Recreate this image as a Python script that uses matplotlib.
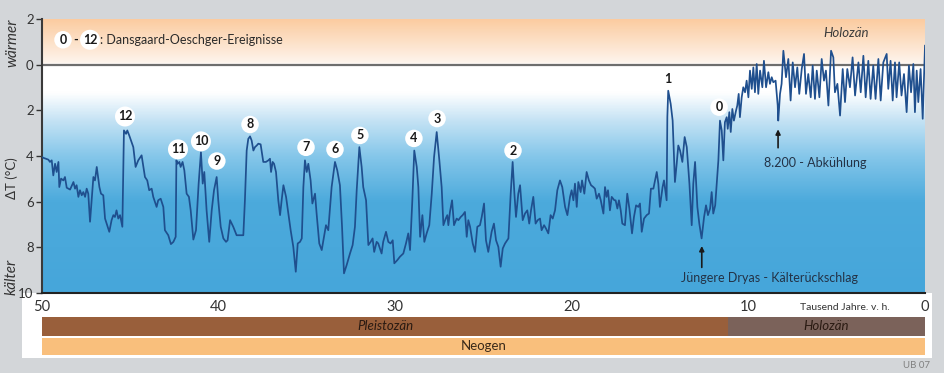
import numpy as np
import matplotlib
matplotlib.use("Agg")
import matplotlib.pyplot as plt
from matplotlib.colors import LinearSegmentedColormap
from matplotlib.patches import Rectangle

plt.rcParams['font.family'] = ['Lato', 'DejaVu Sans']

# age in thousand years before present, temperature anomaly in degC (positive = colder)
kyr = [50.00, 49.92, 49.64, 49.55, 49.45, 49.36, 49.26, 49.17, 49.07, 49.02, 48.92, 48.79, 48.70, 48.60,
       48.41, 48.22, 48.13, 48.04, 47.94, 47.85, 47.75, 47.66, 47.56, 47.47, 47.38, 47.28, 47.09, 47.00,
       46.90, 46.75, 46.66, 46.53, 46.43, 46.34, 46.19, 46.06, 45.96, 45.87, 45.78, 45.68, 45.58, 45.45,
       45.36, 45.24, 45.17, 45.06, 44.93, 44.83, 44.70, 44.55, 44.36, 44.17, 44.04, 43.93, 43.79, 43.70,
       43.51, 43.42, 43.28, 43.13, 43.04, 42.85, 42.70, 42.56, 42.43, 42.39, 42.32, 42.22, 42.15, 42.04,
       41.94, 41.81, 41.68, 41.58, 41.43, 41.28, 41.13, 41.00, 40.90, 40.81, 40.68, 40.53, 40.39, 40.26,
       40.11, 40.02, 39.88, 39.73, 39.58, 39.49, 39.35, 39.17, 38.98, 38.79, 38.60, 38.51, 38.41, 38.32,
       38.22, 38.13, 38.03, 37.94, 37.84, 37.75, 37.62, 37.47, 37.32, 37.18, 37.09, 37.03, 36.94, 36.86,
       36.75, 36.62, 36.52, 36.43, 36.33, 36.18, 36.05, 35.92, 35.77, 35.63, 35.52, 35.39, 35.29, 35.20,
       35.11, 35.01, 34.92, 34.79, 34.69, 34.54, 34.45, 34.30, 34.16, 34.03, 33.92, 33.79, 33.60, 33.41,
       33.28, 33.13, 33.01, 32.90, 32.75, 32.56, 32.41, 32.28, 32.18, 32.03, 31.90, 31.81, 31.65, 31.52,
       31.39, 31.28, 31.19, 31.05, 30.96, 30.77, 30.68, 30.52, 30.39, 30.26, 30.14, 30.05, 29.88, 29.73,
       29.54, 29.39, 29.26, 29.16, 29.03, 28.92, 28.78, 28.69, 28.59, 28.46, 28.35, 28.22, 28.07, 27.93,
       27.80, 27.65, 27.50, 27.37, 27.27, 27.14, 27.05, 26.99, 26.90, 26.78, 26.67, 26.52, 26.42, 26.29,
       26.18, 26.05, 25.95, 25.86, 25.76, 25.61, 25.48, 25.35, 25.20, 25.10, 24.97, 24.86, 24.73, 24.54,
       24.41, 24.29, 24.16, 24.03, 23.91, 23.78, 23.59, 23.46, 23.35, 23.25, 23.16, 23.03, 22.93, 22.78,
       22.65, 22.52, 22.41, 22.31, 22.18, 22.05, 21.93, 21.80, 21.71, 21.57, 21.46, 21.33, 21.20, 21.08,
       20.95, 20.82, 20.67, 20.54, 20.38, 20.25, 20.10, 20.01, 19.91, 19.82, 19.72, 19.63, 19.50, 19.42,
       19.29, 19.16, 19.03, 18.91, 18.78, 18.69, 18.59, 18.46, 18.36, 18.21, 18.12, 18.03, 17.95, 17.84,
       17.74, 17.59, 17.52, 17.42, 17.33, 17.23, 17.14, 16.99, 16.86, 16.74, 16.59, 16.48, 16.36, 16.23,
       16.14, 16.04, 15.91, 15.76, 15.63, 15.52, 15.38, 15.19, 15.10, 15.01, 14.86, 14.78, 14.63, 14.59,
       14.54, 14.40, 14.29, 14.16, 14.06, 13.97, 13.87, 13.74, 13.61, 13.49, 13.34, 13.21, 13.12, 13.02,
       12.89, 12.78, 12.65, 12.51, 12.40, 12.29, 12.17, 12.08, 11.99, 11.88, 11.70, 11.61, 11.51, 11.42,
       11.33, 11.23, 11.17, 11.08, 11.00, 10.91, 10.82, 10.70, 10.63, 10.55, 10.48, 10.38, 10.29, 10.19,
       10.10, 10.00, 9.91, 9.81, 9.72, 9.63, 9.53, 9.44, 9.34, 9.21, 9.12, 9.00, 8.87, 8.78,
       8.68, 8.59, 8.46, 8.34, 8.31, 8.21, 8.12, 8.02, 7.87, 7.74, 7.61, 7.49, 7.36, 7.23,
       7.12, 6.98, 6.85, 6.74, 6.61, 6.47, 6.36, 6.23, 6.13, 5.98, 5.85, 5.72, 5.61, 5.47,
       5.32, 5.19, 5.10, 4.96, 4.81, 4.66, 4.53, 4.40, 4.25, 4.10, 3.96, 3.77, 3.64, 3.49,
       3.36, 3.21, 3.08, 2.93, 2.80, 2.64, 2.51, 2.36, 2.17, 2.08, 1.95, 1.83, 1.70, 1.61,
       1.46, 1.33, 1.19, 1.04, 0.91, 0.79, 0.66, 0.57, 0.47, 0.38, 0.25, 0.13, 0.00]
dT = [4.05, 4.08, 4.16, 4.26, 4.19, 4.85, 4.34, 4.70, 4.26, 5.36, 4.99, 5.07, 4.92, 5.39,
      5.47, 5.14, 5.43, 5.28, 5.79, 5.50, 5.72, 5.58, 5.79, 5.43, 5.65, 6.88, 4.92, 5.07,
      4.48, 5.36, 5.65, 5.72, 6.74, 6.96, 7.32, 6.81, 6.59, 6.67, 6.38, 6.74, 6.59, 7.10,
      2.88, 3.03, 2.88, 3.10, 3.39, 3.61, 4.48, 4.19, 3.97, 4.92, 5.07, 5.50, 5.43, 5.79,
      6.23, 5.94, 5.87, 6.23, 7.25, 7.47, 7.86, 7.76, 7.54, 4.19, 4.34, 4.26, 4.48, 4.26,
      4.63, 5.65, 5.79, 6.38, 7.66, 7.25, 5.21, 3.83, 5.21, 4.70, 6.38, 7.76, 6.38, 5.50,
      4.92, 5.94, 7.10, 7.61, 7.76, 7.69, 6.81, 7.10, 7.47, 7.47, 7.47, 5.94, 3.76, 3.25,
      3.14, 3.32, 3.76, 3.61, 3.54, 3.46, 3.49, 4.26, 4.26, 4.19, 4.12, 4.70, 4.26, 4.34,
      4.70, 5.94, 6.59, 5.94, 5.28, 5.79, 6.52, 7.25, 7.98, 9.07, 7.83, 7.76, 7.61, 5.36,
      4.19, 4.70, 4.34, 5.07, 6.08, 5.65, 6.52, 7.83, 8.12, 7.54, 7.03, 7.25, 5.36, 4.26,
      4.63, 5.28, 7.10, 9.14, 8.78, 8.27, 7.90, 7.10, 5.50, 3.61, 4.48, 5.36, 5.94, 7.90,
      7.76, 7.61, 8.20, 7.76, 7.83, 8.27, 7.76, 7.32, 7.76, 7.83, 7.69, 8.70, 8.56, 8.41,
      8.27, 7.83, 7.39, 8.12, 5.94, 3.76, 4.48, 5.36, 7.54, 6.59, 7.76, 7.39, 7.03, 5.65,
      4.05, 2.95, 4.19, 5.36, 7.03, 6.74, 6.59, 7.03, 6.45, 5.94, 7.03, 6.74, 6.81, 6.67,
      6.59, 6.45, 7.54, 6.81, 7.10, 7.83, 8.20, 7.10, 7.03, 6.67, 6.08, 7.69, 8.20, 7.32,
      6.96, 7.69, 7.98, 8.85, 8.05, 7.83, 7.61, 5.65, 4.26, 5.65, 6.67, 5.65, 5.28, 6.81,
      6.52, 6.38, 6.96, 6.38, 5.79, 6.96, 6.81, 6.74, 7.25, 7.03, 7.18, 7.39, 6.59, 6.74,
      6.38, 5.50, 5.07, 5.36, 6.23, 6.59, 5.79, 5.50, 5.94, 5.21, 6.23, 5.14, 5.58, 5.07,
      5.65, 4.70, 5.07, 5.28, 5.36, 5.43, 5.87, 5.65, 5.94, 6.52, 5.36, 5.79, 5.50, 6.38,
      5.79, 5.94, 5.94, 6.30, 5.94, 6.38, 6.96, 7.03, 5.65, 6.30, 7.39, 6.67, 6.16, 6.23,
      6.08, 7.32, 6.74, 6.59, 6.52, 5.43, 5.43, 4.70, 5.21, 6.23, 5.36, 5.07, 5.94, 2.30,
      1.14, 1.72, 2.45, 5.14, 4.34, 3.54, 3.76, 4.26, 3.17, 3.61, 5.21, 7.03, 5.21, 4.26,
      6.23, 6.96, 7.61, 6.67, 6.16, 6.59, 6.30, 5.58, 6.52, 6.16, 4.19, 2.45, 2.88, 4.19,
      2.52, 2.30, 2.81, 2.08, 2.95, 1.94, 2.45, 2.01, 1.79, 1.28, 2.30, 1.43, 0.99, 1.21,
      0.70, 1.43, 0.26, 1.06, 0.12, 1.21, -0.03, 1.28, 0.26, 0.99, -0.17, 0.99, 0.33, 0.84,
      0.55, 0.77, 0.70, 1.79, 2.45, 1.28, 0.84, -0.61, 0.55, -0.25, 1.57, -0.10, 0.99, 0.12,
      1.28, 0.19, -0.47, 1.28, 0.41, 1.43, 0.04, 1.50, 0.26, 1.43, -0.25, 0.70, 0.26, 1.79,
      -0.61, -0.32, 1.21, 0.84, 2.23, 0.19, 1.64, 0.19, 0.99, -0.32, 1.35, -0.10, 1.21, -0.39,
      1.43, -0.17, 1.50, 0.04, 1.50, -0.25, 1.57, -0.10, -0.47, 1.06, -0.17, 1.57, -0.10, 1.43,
      -0.10, 1.35, 0.41, 2.08, 0.04, 1.21, -0.03, 2.08, 0.26, 1.64, 0.19, 2.37, -0.83]

# Dansgaard-Oeschger event labels
do_labels = ['12', '11', '10', '9', '8', '7', '6', '5', '4', '3', '2', '1', '0']
do_kyr = [45.30, 42.30, 41.00, 40.10, 38.22, 35.05, 33.41, 32.00, 28.94, 27.63, 23.33, 14.54, 11.66]
do_dT = [2.27, 3.71, 3.36, 4.22, 2.62, 3.62, 3.71, 3.10, 3.23, 2.36, 3.76, 0.63, 1.86]

yticks = [-2, 0, 2, 4, 6, 8, 10]
xticks = [50, 40, 30, 20, 10, 0]

# geological time bands (boundary as drawn in the picture)
epochs = ['Pleistozän', 'Holozän']
epoch_start = [50, 11.15]
epoch_end = [11.15, 0]
epoch_colors = ['#995f3b', '#7b625a']

W, H = 945, 373
fig = plt.figure(figsize=(W / 100, H / 100), dpi=100, facecolor='#d3d6d9')

# white strip behind x labels and bands
fig.add_artist(Rectangle((22 / W, 1 - 358 / H), (932 - 22) / W, (358 - 293) / H,
                         transform=fig.transFigure, fc='white', ec='none', zorder=-1))

ax = fig.add_axes([42 / W, 1 - 293 / H, 883 / W, 274 / H])

cmap = LinearSegmentedColormap.from_list('bg', [
    (0.0, '#fbcb9f'), (0.16, '#fef4ec'), (0.1667, '#ffffff'), (0.27, '#ffffff'),
    (0.375, '#c3e2f4'), (0.5, '#86c7ea'), (0.667, '#4caadc'), (1.0, '#46a6da')])
grad = np.linspace(-2, 10, 600).reshape(-1, 1)
ax.imshow(grad, extent=(50, 0, 10, -2), origin='upper', aspect='auto', cmap=cmap,
          vmin=-2, vmax=10, zorder=0)

ax.axhline(0, color='#6e6e6e', lw=1.6, zorder=2)
ax.plot(kyr, dT, color='#1f4f8e', lw=1.25, zorder=3)

ax.set_xlim(50, 0)
ax.set_ylim(10, -2)
ax.set_yticks(yticks)
ax.set_yticklabels([str(abs(t)) for t in yticks])
ax.set_xticks(xticks)
ax.set_xticklabels([str(t) for t in xticks])
ax.tick_params(axis='y', direction='out', length=4, width=1, color='#333333',
               labelsize=9.5, labelcolor='#333333', pad=2)
ax.tick_params(axis='x', length=0, labelsize=10.5, labelcolor='#333333', pad=5)
for s in ['top', 'right']:
    ax.spines[s].set_visible(False)
ax.spines['left'].set_color('#3a3a3a')
ax.spines['left'].set_linewidth(1.5)
ax.spines['bottom'].set_color('#222222')
ax.spines['bottom'].set_linewidth(1.5)

circle = dict(boxstyle='circle,pad=0.22', fc='white', ec='none')

# event labels
for lab, x, y in zip(do_labels, do_kyr, do_dT):
    ax.text(x, y, lab, ha='center', va='center', fontsize=9, fontweight='bold',
            color='#1a1a1a', bbox=None if lab == '1' else circle, zorder=5)

# legend in the warm band
ax.text(48.81, -1.09, '0', ha='center', va='center', fontsize=9, fontweight='bold',
        color='#1a1a1a', bbox=circle)
ax.text(48.08, -1.09, '-', ha='center', va='center', fontsize=9, fontweight='bold', color='#1a1a1a')
ax.text(47.28, -1.09, '12', ha='center', va='center', fontsize=9, fontweight='bold',
        color='#1a1a1a', bbox=circle)
ax.text(46.72, -1.09, ': Dansgaard-Oeschger-Ereignisse', ha='left', va='center',
        fontsize=9, color='#2a2a2a')
ax.text(4.47, -1.40, 'Holozän', ha='center', va='center', fontsize=9.5, style='italic',
        color='#3c3c3c')

# annotations
ax.annotate('', xy=(8.32, 2.71), xytext=(8.32, 3.76),
            arrowprops=dict(arrowstyle='-|>', color='#1a1a1a', lw=1.2, mutation_scale=7))
ax.text(6.23, 4.31, '8.200 - Abkühlung', ha='center', va='center', fontsize=9, color='#233246')
ax.annotate('', xy=(12.64, 7.82), xytext=(12.64, 9.0),
            arrowprops=dict(arrowstyle='-|>', color='#1a1a1a', lw=1.2, mutation_scale=7))
ax.text(8.78, 9.34, 'Jüngere Dryas - Kälterückschlag', ha='center', va='center',
        fontsize=9, color='#233246')

# axis side labels
fig.text(12 / W, 1 - 43 / H, 'wärmer', rotation=90, ha='center', va='center',
         fontsize=11, style='italic', color='#333333')
fig.text(12 / W, 1 - 178 / H, 'ΔT (°C)', rotation=90, ha='center', va='center',
         fontsize=9.5, color='#333333')
fig.text(12 / W, 1 - 277 / H, 'kälter', rotation=90, ha='center', va='center',
         fontsize=11, style='italic', color='#333333')
fig.text(845 / W, 1 - 308 / H, 'Tausend Jahre. v. h.', ha='center', va='center',
         fontsize=7.5, color='#333333')
fig.text(930 / W, 1 - 365 / H, 'UB 07', ha='right', va='center', fontsize=7, color='#808080')

# epoch bands
axb = fig.add_axes([42 / W, 1 - 355 / H, 883 / W, 38 / H])
axb.set_xlim(50, 0)
axb.set_ylim(0, 38)
axb.axis('off')
for name, s, e, c in zip(epochs, epoch_start, epoch_end, epoch_colors):
    axb.barh(28.5, e - s, left=s, height=19, color=c, edgecolor='none')
    axb.text((s + e) / 2, 28.5, name, ha='center', va='center', fontsize=9.5,
             style='italic', color='#2a1a12')
axb.barh(8.5, -50, left=50, height=17, color='#f9bf7c', edgecolor='none')
axb.text(25, 8.5, 'Neogen', ha='center', va='center', fontsize=9.5, color='#3a2a1a')

fig.savefig('out.png', dpi=100, facecolor=fig.get_facecolor())
